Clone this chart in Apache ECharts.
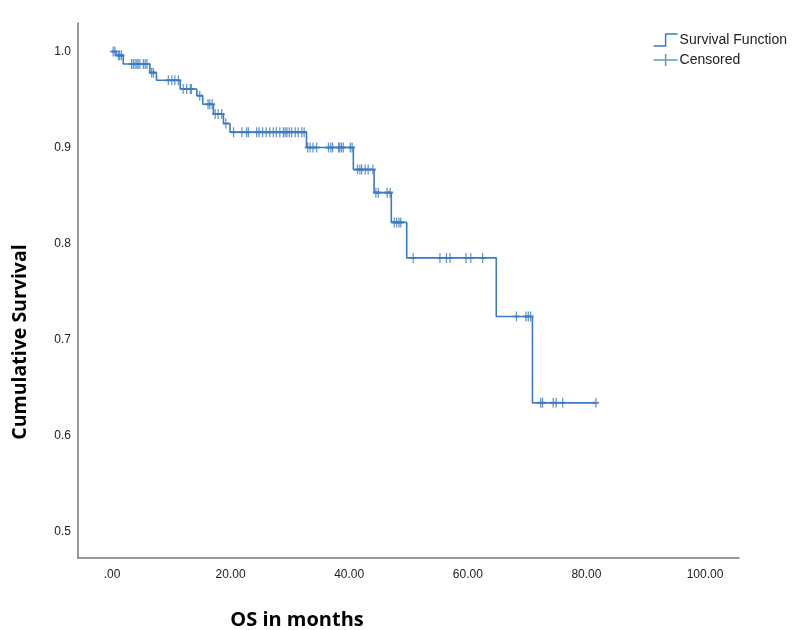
<!DOCTYPE html>
<html>
<head>
<meta charset="utf-8">
<script src="https://cdn.jsdelivr.net/npm/echarts@6/dist/echarts.min.js"></script>
<style>
html,body{margin:0;padding:0;background:#fff;}
#chart{width:800px;height:630px;}
</style>
</head>
<body>
<div id="chart"></div>
<script>
// Kaplan-Meier step function: event times (months) and survival after each step
const eventTimes = [0, 0.7, 1.9, 6.4, 7.5, 11.5, 14.3, 15.3, 17.1, 18.8, 19.9, 32.8, 40.7, 44.2, 47.1, 49.7, 64.8, 70.9];
const survival   = [1.0, 0.996, 0.987, 0.978, 0.970, 0.961, 0.954, 0.945, 0.935, 0.925, 0.916, 0.900, 0.877, 0.853, 0.822, 0.785, 0.724, 0.634];
const lastTime = 81.6;

// Censored observation times (months)
const censoredTimes = [
  0.2, 0.5, 1.1, 1.3, 1.6, 3.3, 3.6, 3.9, 4.2, 4.4, 4.7, 5.3, 5.6, 5.9,
  6.7, 7.0, 9.5, 10.1, 10.6, 11.2, 12.0, 12.6, 13.2, 13.4, 14.8,
  16.2, 16.5, 16.9, 17.4, 17.9, 18.5, 19.2,
  20.5, 21.9, 22.7, 23.0, 24.4, 24.8, 25.4, 26.0, 26.6, 27.2, 27.7, 28.3, 28.9, 29.2, 29.5, 29.9, 30.3, 30.9, 31.4, 32.0, 32.4,
  33.0, 33.4, 33.9, 34.5, 36.5, 36.9, 37.2, 38.2, 38.4, 38.7, 39.0, 40.2, 40.5,
  41.4, 41.8, 42.1, 42.7, 43.2, 44.0,
  44.5, 44.9, 46.4, 46.9,
  47.6, 48.0, 48.4, 48.7,
  50.8, 55.3, 56.4, 57.0, 59.7, 60.5, 62.5,
  68.2, 69.8, 70.2, 70.6,
  72.3, 72.6, 74.4, 74.9, 76.0, 81.6
];

const xTicks = [0, 20, 40, 60, 80, 100];
const xTickLabels = ['.00', '20.00', '40.00', '60.00', '80.00', '100.00'];
const yTicks = [0.5, 0.6, 0.7, 0.8, 0.9, 1.0];
const yTickLabels = ['0.5', '0.6', '0.7', '0.8', '0.9', '1.0'];

const blue = '#3a7bc4';

function survAt(t) {
  let s = survival[0];
  for (let i = 0; i < eventTimes.length; i++) {
    if (eventTimes[i] <= t) s = survival[i];
  }
  return s;
}

const stepData = eventTimes.map((t, i) => [t, survival[i]]);
stepData.push([lastTime, survival[survival.length - 1]]);
const censData = censoredTimes.map(t => [t, survAt(t)]);

const chart = echarts.init(document.getElementById('chart'), null, {renderer: 'canvas'});
chart.setOption({
  animation: false,
  backgroundColor: '#ffffff',
  grid: {left: 78, right: 61, top: 23, bottom: 72, containLabel: false},
  graphic: [
    {type: 'text', x: 297, y: 620,
     style: {text: 'OS in months', fill: '#000', font: 'bold 20px "Open Sans"',
             textAlign: 'center', textVerticalAlign: 'middle'}},
    {type: 'text', x: 20, y: 342, rotation: Math.PI / 2,
     style: {text: 'Cumulative Survival', fill: '#000', font: 'bold 19.5px "Open Sans"',
             textAlign: 'center', textVerticalAlign: 'middle'}}
  ],
  legend: {
    right: 8, top: 28, orient: 'vertical', itemGap: 6, itemWidth: 26, itemHeight: 12,
    textStyle: {fontFamily: 'Liberation Sans', fontSize: 14, color: '#222', padding: [0, 0, 0, -4]},
    data: [
      {name: 'Survival Function', icon: 'path://M0,12 L12,12 L12,0 L24,0',
       itemStyle: {color: 'rgba(0,0,0,0)', borderColor: blue, borderWidth: 1.5}},
      {name: 'Censored', icon: 'path://M0,6 L24,6 M12,0 L12,12',
       itemStyle: {color: 'rgba(0,0,0,0)', borderColor: blue, borderWidth: 1.5}}
    ]
  },
  xAxis: {
    type: 'value', min: -5.73, max: 105.73,
    axisLine: {show: true, onZero: false, lineStyle: {color: '#777', width: 1.5}},
    axisTick: {show: false},
    splitLine: {show: false},
    axisLabel: {
      customValues: xTicks, margin: 11, color: '#222', fontFamily: 'Liberation Sans', fontSize: 12,
      formatter: v => xTickLabels[xTicks.indexOf(v)] || ''
    }
  },
  yAxis: {
    type: 'value', min: 0.4724, max: 1.0297,
    axisLine: {show: true, onZero: false, lineStyle: {color: '#777', width: 1.5}},
    axisTick: {show: false},
    splitLine: {show: false},
    axisLabel: {
      customValues: yTicks, margin: 7, color: '#222', fontFamily: 'Liberation Sans', fontSize: 12,
      formatter: v => {
        const i = yTicks.findIndex(t => Math.abs(t - v) < 1e-6);
        return i >= 0 ? yTickLabels[i] : '';
      }
    }
  },
  series: [
    {
      name: 'Survival Function', type: 'line', step: 'end', data: stepData,
      showSymbol: false, symbol: 'none',
      lineStyle: {color: blue, width: 1.6},
      itemStyle: {color: blue}
    },
    {
      name: 'Censored', type: 'scatter', data: censData,
      symbol: 'path://M0,-5 L0,5 M-3,0 L3,0', symbolSize: [6, 10],
      itemStyle: {color: 'rgba(0,0,0,0)', borderColor: blue, borderWidth: 1.6}
    }
  ]
});
</script>
</body>
</html>
